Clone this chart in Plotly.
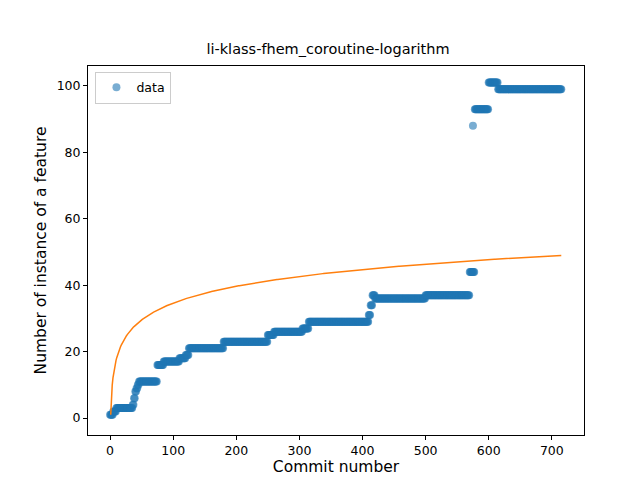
import numpy as np
import plotly.graph_objects as go

# step segments: (first commit, last commit, value)
seg_start = [0, 5, 10, 36, 38, 40, 42, 44, 46, 75, 85, 110, 120, 125, 180, 250, 260, 305, 315, 410, 413, 416, 420, 500, 570, 578, 600, 615]
seg_end   = [4, 9, 35, 37, 39, 41, 43, 45, 74, 84, 109, 119, 124, 179, 249, 259, 304, 314, 409, 412, 415, 419, 499, 569, 577, 599, 614, 715]
seg_value = [1, 2, 3, 4, 6, 8, 9, 10, 11, 16, 17, 18, 19, 21, 23, 25, 26, 27, 29, 31, 34, 37, 36, 37, 44, 93, 101, 99]
outlier_x = [575]
outlier_y = [88]

# logarithmic fit: y = a*ln(x) + b
fit_a, fit_b = 7.3, 1.0
fit_x = np.linspace(1, 715, 600)

xs, ys = [], []
for s, e, v in zip(seg_start, seg_end, seg_value):
    for c in range(s, e + 1):
        xs.append(c)
        ys.append(v)
xs += outlier_x
ys += outlier_y

fig = go.Figure()
fig.add_trace(go.Scatter(x=xs, y=ys, mode='markers', name='data',
                         marker=dict(color='#1f77b4', opacity=0.6, size=8, line=dict(width=0))))
fig.add_trace(go.Scatter(x=fit_x, y=fit_a * np.log(fit_x) + fit_b, mode='lines',
                         line=dict(color='#ff7f0e', width=1.5), showlegend=False))

axis = dict(showgrid=False, zeroline=False, showline=True, mirror=True, linecolor='black',
            ticks='outside', ticklen=4, tickcolor='black', automargin=False,
            tickfont=dict(size=12.5, color='black'))
fig.update_layout(
    width=640, height=480, plot_bgcolor='white', paper_bgcolor='white',
    font=dict(family='DejaVu Sans', color='black'),
    margin=dict(l=80, r=64, t=58, b=53),
    title=dict(text='li-klass-fhem_coroutine-logarithm', x=0.5, xanchor='center', y=0.925, font=dict(size=14.5)),
    xaxis=dict(axis, range=[-35, 751], tickvals=[0, 100, 200, 300, 400, 500, 600, 700],
               title=dict(text='Commit number', font=dict(size=15.5), standoff=4)),
    yaxis=dict(axis, range=[-5.1, 106], tickvals=[0, 20, 40, 60, 80, 100],
               title=dict(text='Number of instance of a feature', font=dict(size=15.5), standoff=6)),
    legend=dict(x=0.015, y=0.985, xanchor='left', yanchor='top', bordercolor='#cccccc',
                borderwidth=1, font=dict(size=12.5)),
)
fig.write_html("out.html")
